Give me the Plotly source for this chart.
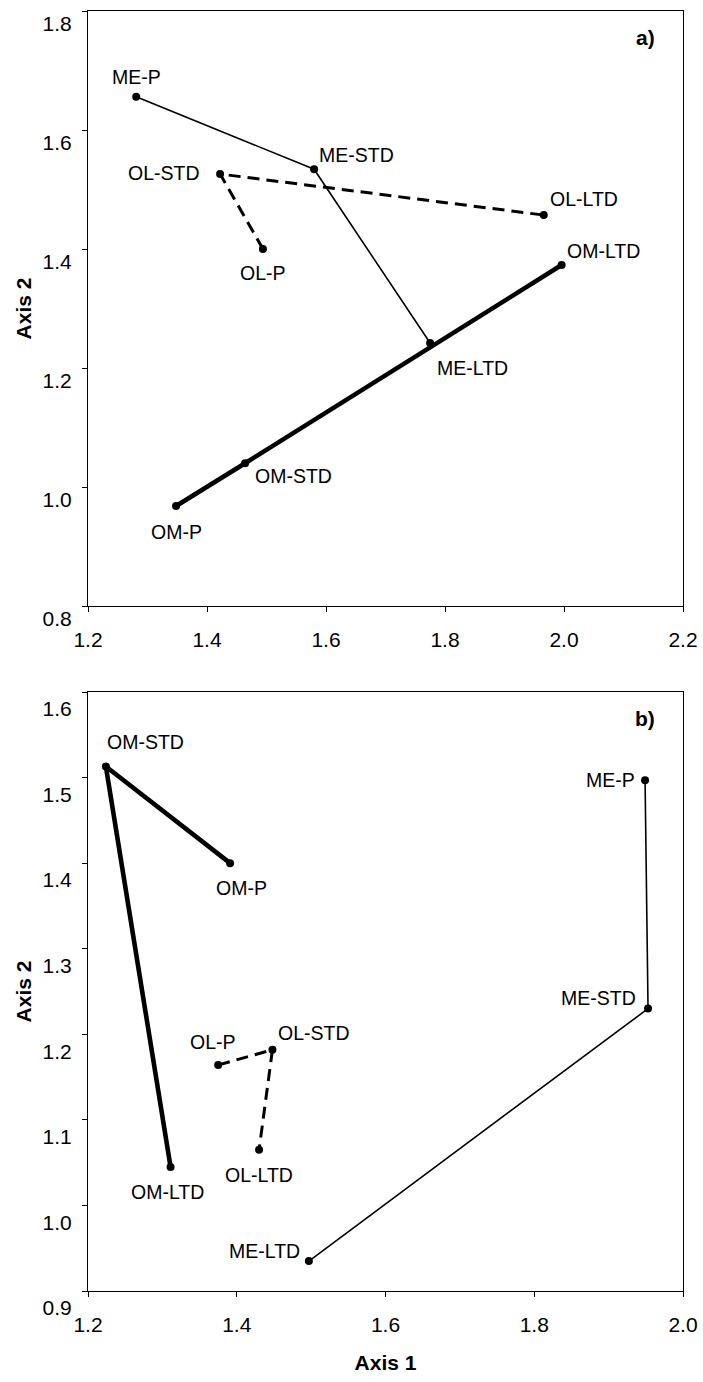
import plotly.graph_objects as go

# ---------------- data ----------------
stages = ["P", "STD", "LTD"]
groups = ["ME", "OL", "OM"]

# panel a)
a_me_x = [1.281, 1.580, 1.775]
a_me_y = [1.656, 1.534, 1.242]
a_ol_x = [1.494, 1.422, 1.966]
a_ol_y = [1.400, 1.526, 1.457]
a_om_x = [1.348, 1.464, 1.996]
a_om_y = [0.968, 1.040, 1.373]

# panel b)
b_me_x = [1.949, 1.953, 1.497]
b_me_y = [1.497, 1.230, 0.935]
b_ol_x = [1.375, 1.448, 1.430]
b_ol_y = [1.164, 1.182, 1.065]
b_om_x = [1.391, 1.224, 1.311]
b_om_y = [1.400, 1.513, 1.045]

a_xticks = [1.2, 1.4, 1.6, 1.8, 2.0, 2.2]
a_yticks = [0.8, 1.0, 1.2, 1.4, 1.6, 1.8]
b_xticks = [1.2, 1.4, 1.6, 1.8, 2.0]
b_yticks = [0.9, 1.0, 1.1, 1.2, 1.3, 1.4, 1.5, 1.6]

# ---------------- styles ----------------
W, H = 703, 1382
FONT = "Liberation Sans, Arial, sans-serif"
line_style = {
    "ME": dict(width=1.6, dash="solid"),
    "OL": dict(width=3, dash="12px,7px"),
    "OM": dict(width=4.6, dash="solid"),
}
# label placement per point: (xanchor, xshift, yshift)
a_label_pos = {
    "ME": [("center", 0, 20), ("left", 3, 14), ("left", 5, -25)],
    "OL": [("center", 0, -24), ("right", -18, 1), ("left", 4, 16)],
    "OM": [("center", 0, -26), ("left", 8, -13), ("left", 3, 14)],
}
b_label_pos = {
    "ME": [("right", -8, 0), ("right", -10, 11), ("right", -7, 10)],
    "OL": [("center", -5, 23), ("left", 4, 17), ("center", 0, -25)],
    "OM": [("center", 11, -25), ("left", -1, 24), ("center", -3, -25)],
}

panels = [
    ("x", "y", {"ME": (a_me_x, a_me_y), "OL": (a_ol_x, a_ol_y), "OM": (a_om_x, a_om_y)}, a_label_pos),
    ("x2", "y2", {"ME": (b_me_x, b_me_y), "OL": (b_ol_x, b_ol_y), "OM": (b_om_x, b_om_y)}, b_label_pos),
]

fig = go.Figure()
annotations = []
for xa, ya, data, lpos in panels:
    for g in groups:
        xs, ys = data[g]
        fig.add_trace(go.Scatter(
            x=xs, y=ys, xaxis=xa, yaxis=ya, mode="lines+markers",
            line=dict(color="black", **line_style[g]),
            marker=dict(color="black", size=8),
            cliponaxis=False, showlegend=False, hoverinfo="skip",
        ))
        for i, s in enumerate(stages):
            anc, dx, dy = lpos[g][i]
            annotations.append(dict(
                x=xs[i], y=ys[i], xref=xa, yref=ya, text=f"{g}-{s}",
                showarrow=False, xanchor=anc, yanchor="middle",
                xshift=dx, yshift=dy,
                font=dict(family=FONT, size=19.5, color="black"),
            ))

xdom = [88 / W, 683 / W]
ydom_a = [1 - 606 / H, 1 - 11 / H]
ydom_b = [1 - 1291 / H, 1 - 692 / H]

annotations.append(dict(x=657 / W, y=1 - 37 / H, xref="paper", yref="paper", text="<b>a)</b>",
                        showarrow=False, xanchor="right", yanchor="middle",
                        font=dict(family=FONT, size=21, color="black")))
annotations.append(dict(x=657 / W, y=1 - 718 / H, xref="paper", yref="paper", text="<b>b)</b>",
                        showarrow=False, xanchor="right", yanchor="middle",
                        font=dict(family=FONT, size=21, color="black")))

tickfont = dict(family=FONT, size=21, color="black")
titlefont = dict(family=FONT, size=21, color="black")
common = dict(showline=True, mirror=True, linecolor="black", linewidth=1,
              showgrid=False, zeroline=False, ticks="outside", ticklen=5,
              tickcolor="black", tickfont=tickfont, tickformat=".1f",
              automargin=False, ticklabeloverflow="allow")

fig.update_layout(
    width=W, height=H, margin=dict(l=0, r=0, t=0, b=0, pad=0),
    paper_bgcolor="white", plot_bgcolor="white",
    xaxis=dict(domain=xdom, anchor="y", range=[1.2, 2.2], tickvals=a_xticks,
               ticklabelstandoff=10, **common),
    yaxis=dict(domain=ydom_a, anchor="x", range=[0.8, 1.8], tickvals=a_yticks,
               ticklabelstandoff=6, ticklabelshift=13,
               title=dict(text="<b>Axis 2</b>", font=titlefont, standoff=5), **common),
    xaxis2=dict(domain=xdom, anchor="y2", range=[1.2, 2.0], tickvals=b_xticks,
                ticklabelstandoff=10,
                title=dict(text="<b>Axis 1</b>", font=titlefont, standoff=20), **common),
    yaxis2=dict(domain=ydom_b, anchor="x2", range=[0.9, 1.6], tickvals=b_yticks,
                ticklabelstandoff=6, ticklabelshift=17,
                title=dict(text="<b>Axis 2</b>", font=titlefont, standoff=5), **common),
    annotations=annotations,
)

fig.write_html(
    "out.html",
    config={"displayModeBar": False},
    post_script="document.body.style.margin='0';document.body.style.overflow='hidden';",
)
